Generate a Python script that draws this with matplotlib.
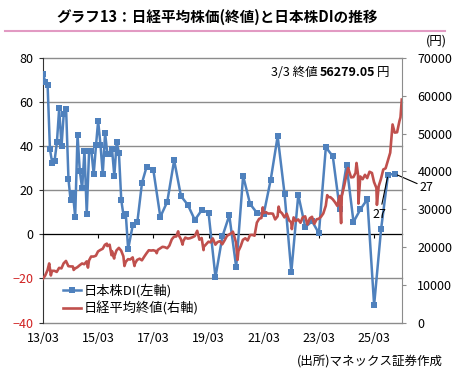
#!/usr/bin/env python3
"""Nikkei average close vs. Japan equity DI (chart 13)."""

import matplotlib

matplotlib.use("Agg")
import matplotlib.pyplot as plt
from matplotlib.lines import Line2D
import pandas as pd

plt.rcParams["font.family"] = ["Noto Sans CJK JP", "DejaVu Sans"]

TITLE = "グラフ13：日経平均株価(終値)と日本株DIの推移"
SOURCE = "(出所)マネックス証券作成"
DI_LABEL = "日本株DI(左軸)"
NK_LABEL = "日経平均終値(右軸)"

# Japan equity DI (left axis)
di_dates = (
    pd.date_range("2013-03-01", "2016-03-01", freq="MS").tolist()
    + ["2016-04-01", "2016-06-01", "2016-08-01", "2016-10-01", "2016-12-01"]
    + pd.date_range("2017-03-01", "2025-12-01", freq="QS-MAR").tolist()
)
di_values = [
    72.7, 69.2, 67.7, 38.6, 32.4, 33.3, 41.7, 57.1, 40.0, 54.8,
    56.8, 25.1, 15.6, 18.8, 7.9, 45.1, 28.8, 20.8, 38.0, 9.4,
    37.6, 38.0, 27.3, 40.5, 51.5, 40.5, 27.3, 46.0, 36.4, 36.3,
    38.5, 26.5, 42.0, 37.0, 15.5, 8.3, 9.1,
    -6.7, 4.1, 5.6, 23.3, 30.6,
    29.1, 7.9, 14.8, 33.6,
    17.4, 13.3, 6.5, 11.0,
    9.9, -19.4, -0.9, 8.6,
    -14.8, 26.5, 13.8, 9.7,
    9.3, 24.7, 44.5, 18.5,
    -17.1, 17.9, 3.3, 5.9,
    0.5, 39.5, 35.4, 11.7,
    31.5, 5.6, 11.4, 15.9,
    -32.1, 2.3, 27.1, 27.4,
]

# Nikkei average close (right axis)
nk_dates = [
    "2013-03-01", "2013-03-29", "2013-04-30", "2013-05-22", "2013-06-13", "2013-06-28",
    "2013-07-31", "2013-08-30", "2013-09-30", "2013-10-31", "2013-11-29", "2013-12-30",
    "2014-01-31", "2014-02-28", "2014-03-31", "2014-04-11", "2014-04-30", "2014-05-30",
    "2014-06-30", "2014-07-31", "2014-08-29", "2014-09-30", "2014-10-17", "2014-10-31",
    "2014-11-28", "2014-12-30", "2015-01-30", "2015-02-27", "2015-03-31", "2015-04-30",
    "2015-05-29", "2015-06-24", "2015-06-30", "2015-07-31", "2015-08-25", "2015-08-31",
    "2015-09-29", "2015-09-30", "2015-10-30", "2015-11-30", "2015-12-30", "2016-01-29",
    "2016-02-12", "2016-02-29", "2016-03-31", "2016-04-28", "2016-05-31", "2016-06-24",
    "2016-06-30", "2016-07-29", "2016-08-31", "2016-09-30", "2016-10-31", "2016-11-30",
    "2016-12-30", "2017-01-31", "2017-02-28", "2017-03-31", "2017-04-14", "2017-04-28",
    "2017-05-31", "2017-06-30", "2017-07-31", "2017-08-31", "2017-09-29", "2017-10-31",
    "2017-11-30", "2017-12-29", "2018-01-23", "2018-01-31", "2018-02-28", "2018-03-23",
    "2018-03-30", "2018-04-27", "2018-05-31", "2018-06-29", "2018-07-31", "2018-08-31",
    "2018-10-02", "2018-10-31", "2018-11-30", "2018-12-25", "2018-12-28", "2019-01-31",
    "2019-02-28", "2019-03-29", "2019-04-26", "2019-05-31", "2019-06-28", "2019-07-31",
    "2019-08-30", "2019-09-30", "2019-10-31", "2019-11-29", "2019-12-30", "2020-01-17",
    "2020-01-31", "2020-02-28", "2020-03-19", "2020-03-31", "2020-04-30", "2020-05-29",
    "2020-06-30", "2020-07-31", "2020-08-31", "2020-09-30", "2020-10-30", "2020-11-30",
    "2020-12-30", "2021-01-29", "2021-02-16", "2021-02-26", "2021-03-31", "2021-04-30",
    "2021-05-31", "2021-06-30", "2021-07-30", "2021-08-31", "2021-09-14", "2021-09-30",
    "2021-10-29", "2021-11-30", "2021-12-30", "2022-01-31", "2022-02-28", "2022-03-08",
    "2022-03-31", "2022-04-28", "2022-05-31", "2022-06-30", "2022-07-29", "2022-08-31",
    "2022-09-30", "2022-10-31", "2022-11-30", "2022-12-30", "2023-01-31", "2023-02-28",
    "2023-03-31", "2023-04-28", "2023-05-31", "2023-06-19", "2023-06-30", "2023-07-31",
    "2023-08-31", "2023-09-29", "2023-10-31", "2023-11-30", "2023-12-20", "2023-12-29",
    "2024-01-31", "2024-02-29", "2024-03-22", "2024-03-29", "2024-04-30", "2024-05-31",
    "2024-06-28", "2024-07-11", "2024-07-31", "2024-08-05", "2024-08-30", "2024-09-30",
    "2024-10-31", "2024-11-29", "2024-12-30", "2025-01-31", "2025-02-28", "2025-03-31",
    "2025-04-07", "2025-04-30", "2025-05-30", "2025-06-30", "2025-07-31", "2025-08-29",
    "2025-09-30", "2025-10-31", "2025-11-28", "2025-12-30", "2026-01-30", "2026-02-13",
    "2026-03-02",
]
nk_values = [
    11600, 12398, 13861, 15627, 12445, 13677,
    13668, 13389, 14456, 14328, 15662, 16291,
    14915, 14841, 14828, 13910, 14304, 14632,
    15162, 15621, 15425, 16174, 14532, 16414,
    17460, 17451, 17674, 18798, 19207, 19520,
    20563, 20868, 20236, 20585, 17806, 18890,
    16931, 17388, 19083, 19747, 19034, 17518,
    14952, 16027, 16759, 16666, 17235, 14952,
    15576, 16569, 16887, 16450, 17425, 18308,
    19114, 19041, 19119, 18909, 18336, 19197,
    19651, 20033, 19925, 19646, 20356, 22012,
    22725, 22765, 24124, 23098, 22068, 20617,
    21454, 22468, 22202, 22305, 22554, 22865,
    24270, 21920, 22351, 19155, 20015, 20773,
    21385, 21206, 22259, 20601, 21276, 21522,
    20704, 21756, 22927, 23294, 23657, 24041,
    23205, 21143, 16552, 18917, 20194, 21878,
    22288, 21710, 23140, 23185, 22977, 26434,
    27444, 27663, 30467, 28966, 29179, 28813,
    28860, 28792, 27284, 28090, 30670, 29453,
    28893, 27822, 28792, 27002, 26527, 24717,
    27821, 26848, 27280, 26393, 27802, 28092,
    25937, 27587, 27969, 26095, 27327, 27446,
    28041, 28856, 30888, 33706, 33189, 33172,
    32619, 31858, 30859, 33487, 26300, 33464,
    36287, 39166, 40888, 40369, 38406, 38488,
    39583, 42224, 39102, 31458, 38648, 37920,
    39081, 38208, 39895, 39572, 37156, 35618,
    31136, 36045, 37965, 40487, 40800, 42718,
    44933, 52411, 50254, 50339, 53300, 54300,
    59000,
]

di_ticks = [-40, -20, 0, 20, 40, 60, 80]
nk_ticks = [0, 10000, 20000, 30000, 40000, 50000, 60000, 70000]
x_ticks = ["2013-03-01", "2015-03-01", "2017-03-01", "2019-03-01",
           "2021-03-01", "2023-03-01", "2025-03-01"]
x_labels = ["13/03", "15/03", "17/03", "19/03", "21/03", "23/03", "25/03"]

BLUE = "#4F81BD"
RED = "#C0504D"
GRID = "#8C8C8C"


def main() -> None:
    fig = plt.figure(figsize=(4.67, 3.79), dpi=100)
    ax = fig.add_axes([43 / 467, 1 - 322.5 / 379, 359 / 467, 264.5 / 379])
    ax2 = ax.twinx()

    di_x = pd.to_datetime(di_dates)
    nk_x = pd.to_datetime(nk_dates)

    ax.plot(di_x, di_values, color=BLUE, linewidth=1.8, marker="s",
            markersize=4.2, markeredgewidth=0, label=DI_LABEL, zorder=3)
    ax2.plot(nk_x, nk_values, color=RED, linewidth=1.9, label=NK_LABEL, zorder=2)

    ax.set_xlim(pd.Timestamp("2013-03-01"), pd.Timestamp("2026-03-05"))
    ax.set_ylim(-40, 80)
    ax2.set_ylim(0, 70000)

    ax.set_yticks(di_ticks)
    ax.yaxis.grid(True, color=GRID, linewidth=1.0)
    for line in ax.get_ygridlines():
        line.set_clip_on(False)
    ax.set_axisbelow(True)
    ax.tick_params(axis="y", length=3, width=0.8, color="#333333", labelsize=9, pad=4)
    for lab, val in zip(ax.get_yticklabels(), di_ticks):
        lab.set_color("#D02020" if val < 0 else "black")

    ax.set_xticks(pd.to_datetime(x_ticks))
    ax.set_xticklabels(x_labels)
    ax.spines["bottom"].set_position(("data", 0))
    ax.spines["bottom"].set_color("black")
    ax.tick_params(axis="x", direction="out", length=3, width=0.8, labelsize=9, pad=67)
    ax.spines["top"].set_visible(False)
    ax.spines["right"].set_visible(False)
    ax.spines["left"].set_color("#333333")

    ax2.set_yticks(nk_ticks)
    ax2.tick_params(axis="y", length=3, width=0.8, color=GRID, labelsize=9, pad=8)
    for side in ("left", "top", "bottom"):
        ax2.spines[side].set_visible(False)
    ax2.spines["right"].set_color(GRID)

    # last-point labels
    ax.annotate(f"{di_values[-1]:.0f}", xy=(di_x[-1], di_values[-1]), xytext=(18, -10),
                textcoords="offset points", ha="left", va="center", fontsize=9,
                arrowprops=dict(arrowstyle="-", color="black", lw=0.8, shrinkA=0, shrinkB=2))
    ax.annotate(f"{di_values[-2]:.0f}", xy=(di_x[-2], di_values[-2]), xytext=(-6, -29),
                textcoords="offset points", ha="center", va="center", fontsize=9,
                arrowprops=dict(arrowstyle="-", color="black", lw=0.8, shrinkA=1, shrinkB=2))

    ax2.text(0.635, 0.947, "3/3 終値", transform=ax2.transAxes, ha="left", va="center", fontsize=9)
    ax2.text(0.926, 0.947, "56279.05", transform=ax2.transAxes, ha="right", va="center",
             fontsize=9, fontweight="bold")
    ax2.text(0.929, 0.947, "円", transform=ax2.transAxes, ha="left", va="center", fontsize=9)

    h1, l1 = ax.get_legend_handles_labels()
    h2, l2 = ax2.get_legend_handles_labels()
    ax2.legend(h1 + h2, l1 + l2, loc="upper left", bbox_to_anchor=(0.04, 0.165),
               frameon=False, fontsize=9.5, handlelength=1.4, handletextpad=0.2,
               labelspacing=0.25, borderaxespad=0)

    fig.text(217 / 467, 1 - 17 / 379, TITLE, ha="center", va="center",
             fontsize=10.5, fontweight="bold")
    fig.add_artist(Line2D([5 / 467, 445 / 467], [1 - 31 / 379, 1 - 31 / 379],
                          color="#E29AC3", linewidth=1.5))
    fig.text(447 / 467, 1 - 41 / 379, "(円)", ha="right", va="center", fontsize=9)
    fig.text(443 / 467, 1 - 362 / 379, SOURCE, ha="right", va="center", fontsize=9)

    fig.savefig("out.png", dpi=100)
    plt.close(fig)


if __name__ == "__main__":
    main()
